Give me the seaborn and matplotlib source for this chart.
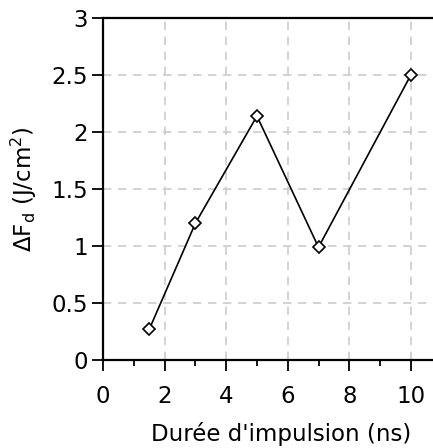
import seaborn as sns
import matplotlib.pyplot as plt
from matplotlib.ticker import MultipleLocator
import pandas as pd

# Data
duree = [1.5, 3, 5, 7, 10]
delta_fd = [0.27, 1.2, 2.14, 0.99, 2.5]
x_ticks = [0, 2, 4, 6, 8, 10]
y_ticks = [0, 0.5, 1, 1.5, 2, 2.5, 3]
y_tick_labels = ['0', '0.5', '1', '1.5', '2', '2.5', '3']

df = pd.DataFrame({'duree': duree, 'delta_fd': delta_fd})

sns.set_style('white')
plt.rcParams['font.family'] = ['DejaVu Sans']
plt.rcParams['text.color'] = 'black'
plt.rcParams['axes.labelcolor'] = 'black'

fig = plt.figure(figsize=(4.33, 4.48), dpi=100)
ax = fig.add_axes([0.238, 0.196, 0.762, 0.764])

sns.lineplot(data=df, x='duree', y='delta_fd', ax=ax, color='black', linewidth=1.2,
             marker='D', markersize=6.5, markerfacecolor='white',
             markeredgecolor='black', markeredgewidth=1.2)

ax.set_xlim(0, 10.72)
ax.set_ylim(0, 3)
ax.set_xticks(x_ticks)
ax.set_yticks(y_ticks)
ax.set_yticklabels(y_tick_labels)
ax.xaxis.set_minor_locator(MultipleLocator(1))

ax.grid(True, which='major', color='#cccccc', linestyle=(0, (5, 4)), linewidth=1.2)
ax.set_axisbelow(True)

for side in ['left', 'bottom', 'top']:
    ax.spines[side].set_visible(True)
    ax.spines[side].set_color('black')
    ax.spines[side].set_linewidth(1.6)
ax.spines['right'].set_visible(False)

ax.tick_params(axis='both', which='major', direction='out', length=8, width=1.3,
               color='black', labelcolor='black', labelsize=16.5, bottom=True, left=True)
ax.tick_params(axis='x', which='major', pad=10)
ax.tick_params(axis='y', which='major', pad=3)
ax.tick_params(axis='x', which='minor', direction='out', length=4, width=1.3,
               color='black', bottom=True)

ax.set_xlabel("Durée d'impulsion (ns)", fontsize=16.5)
ax.set_ylabel('ΔF$_\\mathregular{d}$ (J/cm$^\\mathregular{2}$)', fontsize=16.5)
ax.xaxis.set_label_coords(0.539, -0.182)
ax.yaxis.set_label_coords(-0.194, 0.5)

fig.savefig('out.png', dpi=100)
plt.close(fig)
